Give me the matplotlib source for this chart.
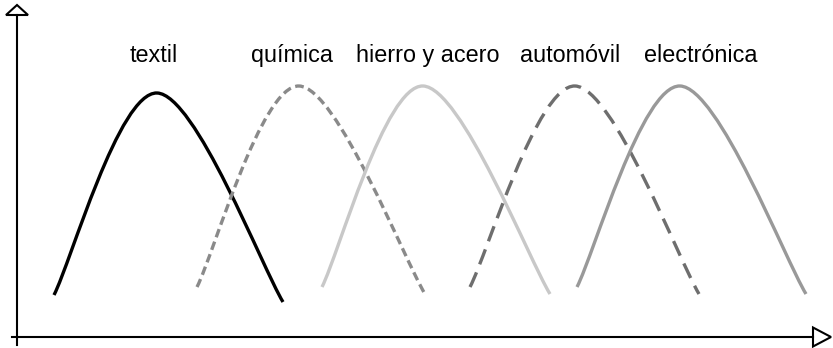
import matplotlib.pyplot as plt
from matplotlib.path import Path
from matplotlib.patches import PathPatch, Polygon

# each curve: start, peak, end (x, level)
industries = ["textil", "química", "hierro y acero", "automóvil", "electrónica"]
start_x = [54, 197, 322, 470, 577]
start_y = [53, 61, 61, 61, 61]
peak_x = [157, 299, 423, 575, 680]
peak_y = [255, 262, 262, 262, 262]
end_x = [283, 425, 550, 699, 806]
end_y = [46, 54, 54, 54, 54]
label_x = [154, 292, 428, 570, 701]
label_y = 286

colors = ["#000000", "#8a8a8a", "#c8c8c8", "#6e6e6e", "#999999"]
styles = ["-", (0, (2.6, 1.4)), "-", (0, (4.8, 2.6)), "-"]

fig = plt.figure(figsize=(8.33, 3.48), dpi=100)
ax = fig.add_axes([0, 0, 1, 1])
ax.set_xlim(0, 833)
ax.set_ylim(0, 348)
ax.axis("off")


def smooth(pts):
    # bezier through points, tangents from neighbours (like excel smoothing)
    verts = [pts[0]]
    codes = [Path.MOVETO]
    n = len(pts)
    for i in range(n - 1):
        p0 = pts[max(i - 1, 0)]
        p1 = pts[i]
        p2 = pts[i + 1]
        p3 = pts[min(i + 2, n - 1)]
        c1 = (p1[0] + (p2[0] - p0[0]) / 6, p1[1] + (p2[1] - p0[1]) / 6)
        c2 = (p2[0] - (p3[0] - p1[0]) / 6, p2[1] - (p3[1] - p1[1]) / 6)
        verts += [c1, c2, p2]
        codes += [Path.CURVE4] * 3
    return Path(verts, codes)


for i in range(len(industries)):
    pts = [(start_x[i], start_y[i]), (peak_x[i], peak_y[i]), (end_x[i], end_y[i])]
    patch = PathPatch(smooth(pts), fill=False, edgecolor=colors[i], lw=2.4,
                      linestyle=styles[i], capstyle="butt")
    ax.add_patch(patch)
    ax.text(label_x[i], label_y, industries[i], ha="center", va="baseline",
            fontsize=16.8, family="Liberation Sans")

# axes with open arrow heads
ax.plot([17, 17], [3, 333], color="black", lw=1.5, clip_on=False)
ax.plot([12, 813], [11, 11], color="black", lw=1.5, clip_on=False)
ax.add_patch(Polygon([[6, 333], [28, 333], [17, 343]], closed=True,
                     facecolor="white", edgecolor="black", lw=1.5, clip_on=False))
ax.add_patch(Polygon([[813, 20.5], [813, 1.5], [831, 11]], closed=True,
                     facecolor="white", edgecolor="black", lw=1.5, clip_on=False))

fig.savefig("out.png", dpi=100)
